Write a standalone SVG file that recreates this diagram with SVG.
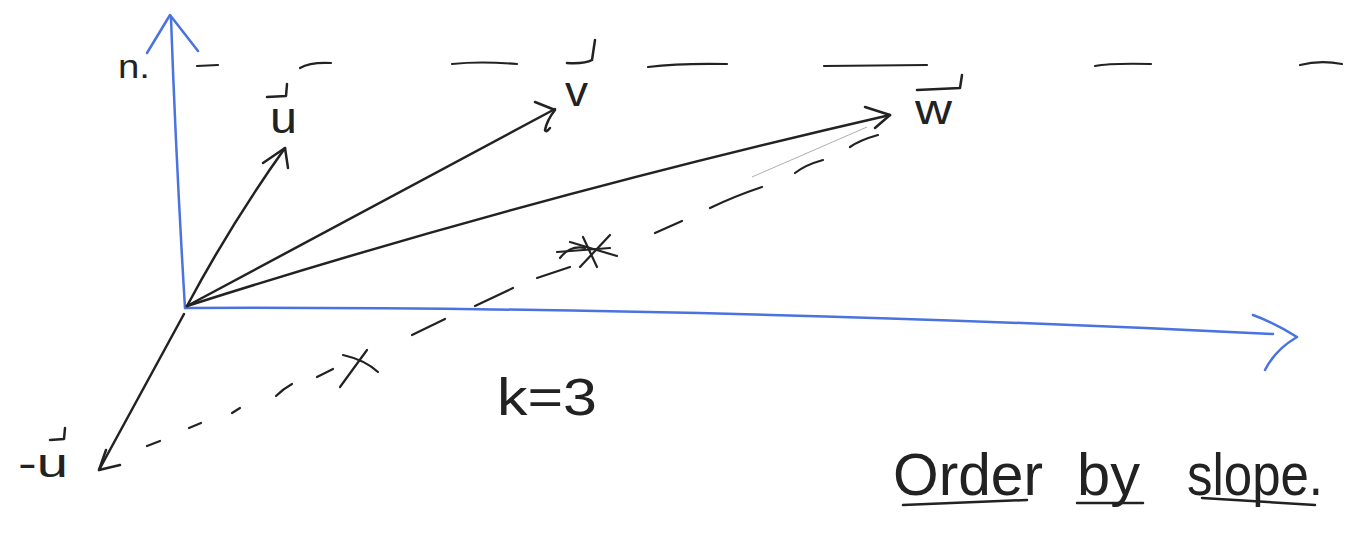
<svg xmlns="http://www.w3.org/2000/svg" width="1350" height="552" viewBox="0 0 1350 552">
<style>
.ink{fill:none;stroke:#222;stroke-width:2.5;stroke-linecap:round;stroke-linejoin:round}
.dash{fill:none;stroke:#222;stroke-width:2.2;stroke-linecap:round}
.blue{fill:none;stroke:#4a72e0;stroke-width:2.5;stroke-linecap:round;stroke-linejoin:round}
.faint{fill:none;stroke:#999;stroke-width:0.8}
.lbl{font-family:"Liberation Sans",Arial,sans-serif;fill:#222}
</style>
<rect width="1350" height="552" fill="#fff"/>
<g id="connectors">
  <g id="axis-vertical">
    <path class="blue" d="M185,308 Q176,160 171,18"/>
    <path class="blue" d="M147,53 L170,15 L198,51"/>
  </g>
  <g id="axis-horizontal">
    <path class="blue" d="M185,308 Q700,306 1273,334"/>
    <path class="blue" d="M1253,315 Q1275,323 1297,337 Q1275,350 1265,370"/>
  </g>
  <g id="vec-u">
    <path class="ink" d="M187,306 Q232,222 285,148"/>
    <path class="ink" d="M263,163 L285,148 L288,168"/>
  </g>
  <g id="vec-v">
    <path class="ink" d="M187,306 L555,109"/>
    <path class="ink" d="M535,102 L555,110 Q547,120 545,130 Q546,133 550,128"/>
  </g>
  <g id="vec-w">
    <path class="ink" d="M187,306 Q520,200 890,115"/>
    <path class="ink" d="M865,107 L890,115 L875,128"/>
  </g>
  <g id="vec-neg-u">
    <path class="ink" d="M184,314 L99,470"/>
    <path class="ink" d="M106,450 L99,470 L120,465"/>
  </g>
  <g id="dashed-k3">
    <path class="dash" d="M147,446 L160,441"/>
    <path class="dash" d="M189,428 L201,423"/>
    <path class="dash" d="M232,413 L240,408"/>
    <path class="dash" d="M276,396 Q283,389 292,384"/>
    <path class="dash" d="M317,377 L333,369"/>
    <path class="dash" d="M340,387 L367,350"/>
    <path class="dash" d="M343,355 Q365,360 378,372"/>
    <path class="dash" d="M412,335 L445,319"/>
    <path class="dash" d="M475,306 L513,288"/>
    <path class="dash" d="M537,278 L570,267"/>
    <path class="dash" d="M557,252 L610,248"/>
    <path class="dash" d="M570,242 L617,256"/>
    <path class="dash" d="M580,267 L610,235"/>
    <path class="dash" d="M583,237 L597,267"/>
    <path class="dash" d="M560,258 Q570,245 585,248"/>
    <path class="dash" d="M655,233 L682,221"/>
    <path class="dash" d="M710,208 Q735,196 762,187"/>
    <path class="dash" d="M795,173 Q805,165 823,160"/>
    <path class="dash" d="M850,147 Q860,140 878,135"/>
    <path class="faint" d="M752,177 L867,127"/>
  </g>
  <g id="dashed-n">
    <path class="dash" d="M197,66 L218,65"/>
    <path class="dash" d="M300,68 Q310,62 331,63"/>
    <path class="dash" d="M452,64 Q480,61 517,64"/>
    <path class="dash" d="M648,67 Q680,63 727,64"/>
    <path class="dash" d="M824,66 L927,65"/>
    <path class="dash" d="M1095,66 Q1110,63 1151,64"/>
    <path class="dash" d="M1300,65 Q1320,60 1342,64"/>
  </g>
</g>
<g id="label-n"><text class="lbl" x="118" y="78" font-size="34" textLength="32" lengthAdjust="spacingAndGlyphs">n.</text></g>
<g id="label-u">
  <path class="ink" d="M267,97 L286,96 L287,84"/>
  <text class="lbl" x="270" y="133" font-size="44" textLength="27" lengthAdjust="spacingAndGlyphs">u</text>
</g>
<g id="label-v">
  <path class="ink" d="M567,63 Q585,64 592,60 L595,40"/>
  <text class="lbl" x="565" y="106" font-size="42" textLength="23" lengthAdjust="spacingAndGlyphs">v</text>
</g>
<g id="label-w">
  <path class="ink" d="M917,90 L960,88 L962,75"/>
  <text class="lbl" x="915" y="124" font-size="42" textLength="37" lengthAdjust="spacingAndGlyphs">w</text>
</g>
<g id="label-neg-u">
  <path class="ink" d="M50,440 L64,439 L65,428"/>
  <text class="lbl" x="18" y="477" font-size="40" textLength="50" lengthAdjust="spacingAndGlyphs">-u</text>
</g>
<g id="label-k"><text class="lbl" x="497" y="415" font-size="52" textLength="100" lengthAdjust="spacingAndGlyphs">k=3</text></g>
<g id="caption">
  <text class="lbl" x="893" y="495" font-size="60" textLength="150" lengthAdjust="spacingAndGlyphs">Order</text>
  <text class="lbl" x="1077" y="495" font-size="60" textLength="63" lengthAdjust="spacingAndGlyphs">by</text>
  <text class="lbl" x="1187" y="495" font-size="60" textLength="136" lengthAdjust="spacingAndGlyphs">slope.</text>
  <path class="ink" d="M903,505 L1027,500"/>
  <path class="ink" d="M1077,503 L1143,503"/>
  <path class="ink" d="M1202,498 L1315,505"/>
</g>
</svg>
